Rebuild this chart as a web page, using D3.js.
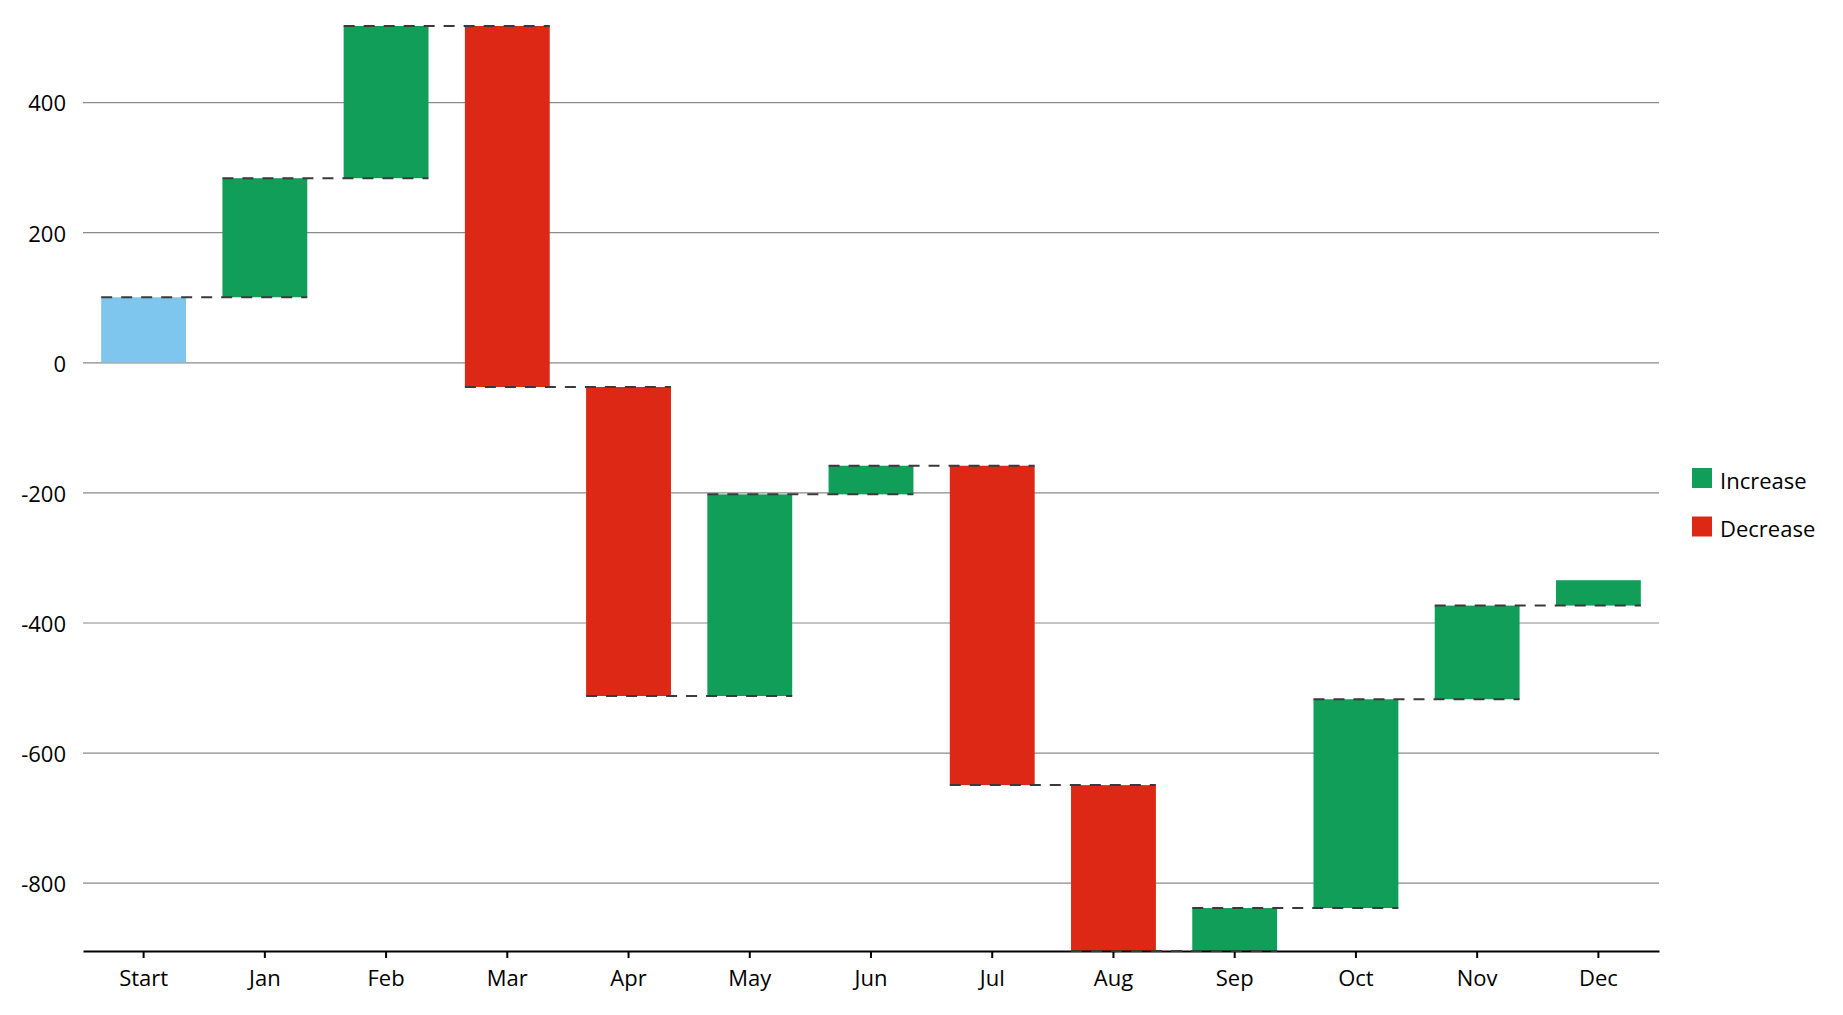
<!DOCTYPE html>
<html>
<head>
<meta charset="utf-8">
<script src="https://cdn.jsdelivr.net/npm/d3@7"></script>
<style>
  body{margin:0;background:#fff;}
  text{font-family:"Open Sans","Noto Sans",sans-serif;fill:#000;}
</style>
</head>
<body>
<div id="chart"></div>
<script>
// data
const categories = ['Start','Jan','Feb','Mar','Apr','May','Jun','Jul','Aug','Sep','Oct','Nov','Dec'];
const changes = [100, 183, 234, -555, -475, 310, 44, -491, -255, 66, 321, 144, 39];
const yTicks = [-800, -600, -400, -200, 0, 200, 400];
const legendLabels = ['Increase','Decrease'];
const colors = {start:'#7ec6ee', up:'#119e58', down:'#dd2815'};

class Waterfall{
  constructor(opts){
    this.conEl = opts.conEl;
    this.width = 1843;
    this.height = 1015;
    this.margin = {top:26, right:184, bottom:64, left:83};
    this.draw();
  }

  draw(){
    // running totals, each bar goes from previous level to its own
    this.rows = [];
    let level = 0;
    changes.forEach((d,i) => {
      const from = i===0 ? 0 : level;
      level = i===0 ? d : level + d;
      this.rows.push({cat:categories[i], from:from, to:level, first:i===0, up:d>=0});
    });

    this.svg = d3.select(this.conEl).append('svg')
                 .attr('width', this.width)
                 .attr('height', this.height);

    this.innerW = this.width - this.margin.left - this.margin.right;
    this.innerH = this.height - this.margin.top - this.margin.bottom;

    this.plot = this.svg.append('g')
                    .attr('transform','translate(' + this.margin.left + ',' + this.margin.top + ')');

    this.createScales();
    this.createAxis();
    this.addBars();
    this.addConnectors();
    this.addLegend();
  }

  createScales(){
    const lo = d3.min(this.rows, d => Math.min(d.from, d.to));
    const hi = d3.max(this.rows, d => Math.max(d.from, d.to));

    this.xScale = d3.scaleBand()
                    .domain(categories)
                    .range([0, this.innerW])
                    .paddingInner(0.3)
                    .paddingOuter(0.15);

    this.yScale = d3.scaleLinear()
                    .domain([lo, hi])
                    .range([this.innerH, 0]);
  }

  createAxis(){
    // gridlines + labels, plain hyphen for negatives like the original
    const yAxis = d3.axisLeft(this.yScale)
                    .tickValues(yTicks)
                    .tickSize(-this.innerW)
                    .tickPadding(17)
                    .tickFormat(d => String(d));

    const yg = this.plot.append('g').attr('class','y-axis-g').call(yAxis);
    yg.select('.domain').remove();
    yg.selectAll('line').attr('stroke','#8a8a8a').attr('stroke-width',1.2);
    yg.selectAll('text').style('font-size','22px').attr('fill','#000').attr('dy','0.4em');

    const xAxis = d3.axisBottom(this.xScale).tickSize(7).tickPadding(12).tickSizeOuter(0);
    const xg = this.plot.append('g')
                   .attr('class','x-axis-g')
                   .attr('transform','translate(0,' + this.innerH + ')')
                   .call(xAxis);
    xg.select('.domain').attr('stroke','#000').attr('stroke-width',2.2);
    xg.selectAll('line').attr('stroke','#000').attr('stroke-width',2);
    xg.selectAll('text').style('font-size','22px').attr('fill','#000');
    this.xg = xg;
  }

  addBars(){
    this.plot.append('g').attr('class','bars')
        .selectAll('rect').data(this.rows).enter()
        .append('rect')
        .attr('x', d => this.xScale(d.cat))
        .attr('width', this.xScale.bandwidth())
        .attr('y', d => this.yScale(Math.max(d.from, d.to)))
        .attr('height', d => Math.abs(this.yScale(d.from) - this.yScale(d.to)))
        .attr('fill', d => d.first ? colors.start : (d.up ? colors.up : colors.down));
    // keep axis line above the bars
    this.xg.raise();
  }

  addConnectors(){
    const links = this.rows.slice(0, -1).map((d,i) => ({a:d.cat, b:this.rows[i+1].cat, v:d.to}));
    this.plot.append('g').attr('class','connectors')
        .selectAll('line').data(links).enter()
        .append('line')
        .attr('x1', d => this.xScale(d.a))
        .attr('x2', d => this.xScale(d.b) + this.xScale.bandwidth())
        .attr('y1', d => this.yScale(d.v))
        .attr('y2', d => this.yScale(d.v))
        .attr('stroke','#3a3a3a')
        .attr('stroke-width',2)
        .attr('stroke-dasharray','11,9');
  }

  addLegend(){
    const lg = this.svg.append('g')
                   .attr('transform','translate(1692,468)');
    const item = lg.selectAll('g').data(legendLabels).enter()
                   .append('g')
                   .attr('transform', (d,i) => 'translate(0,' + i*48.5 + ')');
    item.append('rect')
        .attr('width',20).attr('height',20)
        .attr('fill', (d,i) => i===0 ? colors.up : colors.down);
    item.append('text')
        .attr('x',28).attr('y',13).attr('dy','0.36em')
        .style('font-size','22px')
        .text(d => d);
  }
}

new Waterfall({conEl: document.getElementById('chart')});
</script>
</body>
</html>
